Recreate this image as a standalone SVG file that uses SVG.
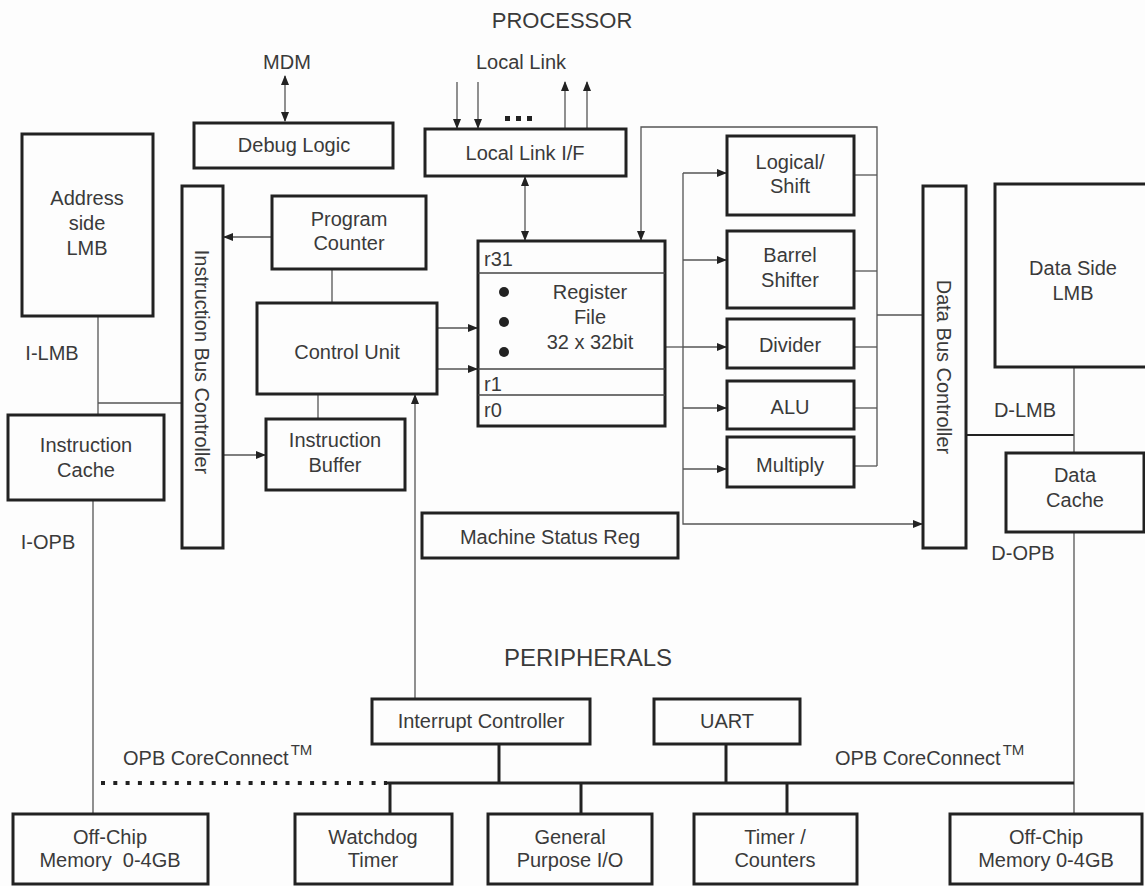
<svg xmlns="http://www.w3.org/2000/svg" width="1145" height="886" viewBox="0 0 1145 886">
<defs>
<style>
text{font-family:"Liberation Sans",Arial,sans-serif;font-size:20px;fill:#3a3a3a;text-anchor:middle}
.t{font-size:22px}
.p{font-size:24px}
.l{text-anchor:start}
.tm{font-size:15px}
.box{fill:none;stroke:#222;stroke-width:3}
.ln{fill:none;stroke:#555;stroke-width:1.3}
.bus{fill:none;stroke:#222;stroke-width:3}
.reg{fill:none;stroke:#444;stroke-width:1.5}
</style>
<marker id="ah" markerWidth="10" markerHeight="8" refX="9" refY="4" orient="auto-start-reverse" markerUnits="userSpaceOnUse">
<path d="M0,0 L10,4 L0,8 Z" fill="#222"/>
</marker>
</defs>
<rect width="1145" height="886" fill="#fdfdfd"/>
<text class="t" x="562" y="28">PROCESSOR</text>
<text x="287" y="69">MDM</text>
<text x="521" y="69">Local Link</text>
<text x="588" y="666" class="p">PERIPHERALS</text>
<g id="connectors">
<line class="ln" x1="285" y1="76" x2="285" y2="121" marker-start="url(#ah)" marker-end="url(#ah)"/>
<line class="ln" x1="457" y1="82" x2="457" y2="128" marker-end="url(#ah)"/>
<line class="ln" x1="478" y1="82" x2="478" y2="128" marker-end="url(#ah)"/>
<line class="ln" x1="565" y1="128" x2="565" y2="82" marker-end="url(#ah)"/>
<line class="ln" x1="587" y1="128" x2="587" y2="82" marker-end="url(#ah)"/>
<line class="ln" x1="525" y1="177" x2="525" y2="240" marker-start="url(#ah)" marker-end="url(#ah)"/>
<polyline class="ln" points="877,466 877,127 641,127 641,240" marker-end="url(#ah)"/>
<line class="ln" x1="854" y1="175" x2="877" y2="175"/>
<line class="ln" x1="854" y1="271" x2="877" y2="271"/>
<line class="ln" x1="854" y1="347" x2="877" y2="347"/>
<line class="ln" x1="854" y1="408" x2="877" y2="408"/>
<line class="ln" x1="854" y1="466" x2="877" y2="466"/>
<line class="ln" x1="877" y1="315" x2="922" y2="315"/>
<line class="ln" x1="665" y1="347" x2="683" y2="347"/>
<polyline class="ln" points="683,173 683,524 922,524" marker-end="url(#ah)"/>
<line class="ln" x1="683" y1="173" x2="726" y2="173" marker-end="url(#ah)"/>
<line class="ln" x1="683" y1="260" x2="726" y2="260" marker-end="url(#ah)"/>
<line class="ln" x1="683" y1="347" x2="726" y2="347" marker-end="url(#ah)"/>
<line class="ln" x1="683" y1="408" x2="726" y2="408" marker-end="url(#ah)"/>
<line class="ln" x1="683" y1="469" x2="726" y2="469" marker-end="url(#ah)"/>
<line class="ln" x1="437" y1="328" x2="477" y2="328" marker-end="url(#ah)"/>
<line class="ln" x1="437" y1="369" x2="477" y2="369" marker-end="url(#ah)"/>
<line class="ln" x1="272" y1="237" x2="224" y2="237" marker-end="url(#ah)"/>
<line class="ln" x1="223" y1="455" x2="265" y2="455" marker-end="url(#ah)"/>
<line class="ln" x1="332" y1="269" x2="332" y2="303"/>
<line class="ln" x1="318" y1="394" x2="318" y2="419"/>
<line class="ln" x1="415" y1="699" x2="415" y2="395" marker-end="url(#ah)"/>
<line class="ln" x1="98" y1="316" x2="98" y2="415"/>
<line class="ln" x1="98" y1="403" x2="182" y2="403"/>
<line class="ln" x1="93" y1="500" x2="93" y2="814"/>
<line class="bus" style="stroke-width:2" x1="966" y1="435" x2="1074" y2="435"/>
<line class="ln" x1="1074" y1="367" x2="1074" y2="453"/>
<line class="ln" x1="1074" y1="532" x2="1074" y2="815"/>
<line class="bus" x1="387" y1="783" x2="1074" y2="783"/>
<line x1="101" y1="783" x2="387" y2="783" stroke="#222" stroke-width="4" stroke-dasharray="4,8.3"/>
<line class="bus" x1="499" y1="744" x2="499" y2="783"/>
<line class="bus" x1="726" y1="744" x2="726" y2="783"/>
<line class="bus" x1="390" y1="783" x2="390" y2="814"/>
<line class="bus" x1="581" y1="783" x2="581" y2="814"/>
<line class="bus" x1="787" y1="783" x2="787" y2="814"/>
</g>
<g id="dots"><rect x="505" y="116" width="5" height="5" fill="#222"/><rect x="516" y="116" width="5" height="5" fill="#222"/><rect x="527" y="116" width="5" height="5" fill="#222"/></g>
<g id="debug"><rect class="box" x="194" y="123" width="199" height="45"/><text x="294" y="152">Debug Logic</text></g>
<g id="llif"><rect class="box" x="425" y="129" width="201" height="47"/><text x="525" y="160">Local Link I/F</text></g>
<g id="alm"><rect class="box" x="22" y="134" width="131" height="182"/><text x="87" y="205">Address</text><text x="87" y="230">side</text><text x="87" y="255">LMB</text></g>
<text x="52" y="360">I-LMB</text>
<g id="icache"><rect class="box" x="8" y="415" width="156" height="85"/><text x="86" y="452">Instruction</text><text x="86" y="477">Cache</text></g>
<text x="48" y="549">I-OPB</text>
<g id="ibc"><rect class="box" x="182" y="186" width="41" height="362"/><text transform="translate(195,362) rotate(90)">Instruction Bus Controller</text></g>
<g id="pc"><rect class="box" x="272" y="196" width="154" height="73"/><text x="349" y="226">Program</text><text x="349" y="250">Counter</text></g>
<g id="cu"><rect class="box" x="257" y="303" width="180" height="91"/><text x="347" y="359">Control Unit</text></g>
<g id="ib"><rect class="box" x="266" y="419" width="139" height="71"/><text x="335" y="447">Instruction</text><text x="335" y="472">Buffer</text></g>
<g id="regfile"><rect class="box" x="478" y="241" width="187" height="185"/>
<line class="reg" x1="478" y1="273" x2="665" y2="273"/><line class="reg" x1="478" y1="369" x2="665" y2="369"/><line class="reg" x1="478" y1="395" x2="665" y2="395"/>
<text class="l" x="484" y="266">r31</text><text class="l" x="484" y="391">r1</text><text class="l" x="484" y="417">r0</text>
<circle cx="504" cy="292" r="5" fill="#222"/><circle cx="504" cy="322" r="5" fill="#222"/><circle cx="504" cy="352" r="5" fill="#222"/>
<text x="590" y="299">Register</text><text x="590" y="324">File</text><text x="590" y="349">32 x 32bit</text></g>
<g id="logical"><rect class="box" x="727" y="136" width="127" height="79"/><text x="790" y="169">Logical/</text><text x="790" y="193">Shift</text></g>
<g id="barrel"><rect class="box" x="727" y="231" width="127" height="77"/><text x="790" y="262">Barrel</text><text x="790" y="287">Shifter</text></g>
<g id="divider"><rect class="box" x="727" y="319" width="127" height="49"/><text x="790" y="352">Divider</text></g>
<g id="alu"><rect class="box" x="727" y="381" width="127" height="48"/><text x="790" y="414">ALU</text></g>
<g id="multiply"><rect class="box" x="727" y="437" width="127" height="50"/><text x="790" y="472">Multiply</text></g>
<g id="dbc"><rect class="box" x="923" y="186" width="43" height="362"/><text transform="translate(937,367) rotate(90)">Data Bus Controller</text></g>
<g id="dlmb"><rect class="box" x="995" y="184" width="160" height="183"/><text x="1073" y="275">Data Side</text><text x="1073" y="300">LMB</text></g>
<text x="1025" y="417">D-LMB</text>
<g id="dcache"><rect class="box" x="1006" y="453" width="138" height="79"/><text x="1075" y="482">Data</text><text x="1075" y="507">Cache</text></g>
<text x="1023" y="560">D-OPB</text>
<g id="msr"><rect class="box" x="422" y="513" width="256" height="45"/><text x="550" y="544">Machine Status Reg</text></g>
<g id="intc"><rect class="box" x="372" y="699" width="218" height="45"/><text x="481" y="728">Interrupt Controller</text></g>
<g id="uart"><rect class="box" x="654" y="699" width="146" height="45"/><text x="727" y="728">UART</text></g>
<text class="l" x="123" y="765">OPB CoreConnect<tspan class="tm" dx="2" dy="-10">TM</tspan></text>
<text class="l" x="835" y="765">OPB CoreConnect<tspan class="tm" dx="2" dy="-10">TM</tspan></text>
<g id="mem1"><rect class="box" x="13" y="814" width="195" height="70"/><text x="110" y="844">Off-Chip</text><text x="110" y="867" xml:space="preserve">Memory  0-4GB</text></g>
<g id="wdt"><rect class="box" x="295" y="814" width="157" height="70"/><text x="373" y="844">Watchdog</text><text x="373" y="867">Timer</text></g>
<g id="gpio"><rect class="box" x="488" y="814" width="164" height="70"/><text x="570" y="844">General</text><text x="570" y="867">Purpose I/O</text></g>
<g id="timer"><rect class="box" x="694" y="814" width="163" height="70"/><text x="775" y="844">Timer /</text><text x="775" y="867">Counters</text></g>
<g id="mem2"><rect class="box" x="950" y="814" width="192" height="70"/><text x="1046" y="844">Off-Chip</text><text x="1046" y="867">Memory 0-4GB</text></g>
</svg>
